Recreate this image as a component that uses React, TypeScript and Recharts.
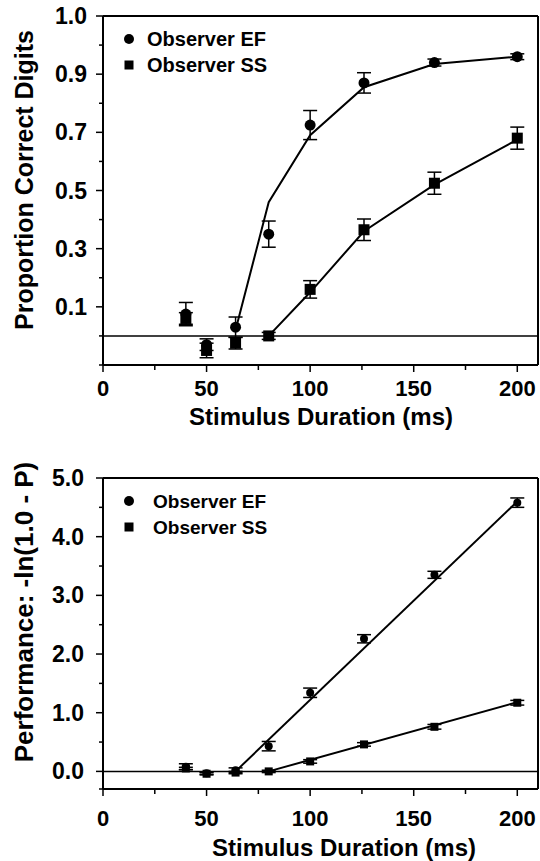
import {
  ComposedChart,
  Line,
  Scatter,
  XAxis,
  YAxis,
  ErrorBar,
  ReferenceLine,
  Legend,
} from "recharts";

const OBSERVERS = ["Observer EF", "Observer SS"];
const DURATIONS = [40, 50, 64, 80, 100, 126, 160, 200];

// upper panel: proportion correct digits
const EF_PROP = [0.075, -0.03, 0.03, 0.35, 0.725, 0.87, 0.94, 0.96];
const EF_PROP_ERR = [0.04, 0.02, 0.035, 0.045, 0.05, 0.035, 0.012, 0.01];
const SS_PROP = [0.06, -0.05, -0.025, 0.0, 0.16, 0.365, 0.525, 0.68];
const SS_PROP_ERR = [0.02, 0.025, 0.02, 0.012, 0.03, 0.037, 0.038, 0.038];
const EF_PROP_FIT_X = [64, 80, 100, 126, 160, 200];
const EF_PROP_FIT = [0.02, 0.46, 0.69, 0.855, 0.935, 0.96];
const SS_PROP_FIT_X = [80, 100, 126, 160, 200];
const SS_PROP_FIT = [0.0, 0.15, 0.36, 0.52, 0.675];

// lower panel: -ln(1 - P)
const EF_PERF = [0.08, -0.03, 0.02, 0.43, 1.34, 2.26, 3.35, 4.58];
const EF_PERF_ERR = [0.05, 0.02, 0.04, 0.08, 0.08, 0.07, 0.06, 0.08];
const SS_PERF = [0.05, -0.04, -0.02, 0.0, 0.17, 0.46, 0.76, 1.17];
const SS_PERF_ERR = [0.02, 0.02, 0.02, 0.02, 0.03, 0.03, 0.04, 0.04];
const EF_PERF_FIT_X = [64, 200];
const EF_PERF_FIT = [0.0, 4.6];
const SS_PERF_FIT_X = [80, 200];
const SS_PERF_FIT = [0.0, 1.18];

const X_MAX = 210;
const X_TICKS = [0, 50, 100, 150, 200];
const X_MINOR = [25, 75, 125, 175];

const PROP_DOMAIN = [-0.1, 1.1];
const PROP_TICKS = [0.1, 0.3, 0.5, 0.7, 0.9, 1.1];
const PROP_TICK_LABELS = ["0.1", "0.3", "0.5", "0.7", "0.9", "1.0"];
const PROP_MINOR = [-0.1, 0, 0.2, 0.4, 0.6, 0.8, 1.0];

const PERF_DOMAIN = [-0.3, 5];
const PERF_TICKS = [0, 1, 2, 3, 4, 5];
const PERF_TICK_LABELS = ["0.0", "1.0", "2.0", "3.0", "4.0", "5.0"];
const PERF_MINOR = [-0.3, 0.5, 1.5, 2.5, 3.5, 4.5];

const FONT = "'Liberation Sans', Arial, Helvetica, sans-serif";
const INK = "#000";

const points = (ys: number[], errs: number[]) =>
  DURATIONS.map((x, i) => ({ x, y: ys[i], err: errs[i] }));
const fit = (xs: number[], ys: number[]) => xs.map((x, i) => ({ x, y: ys[i] }));

const xTick = (labelDy: number) => (props: any) => {
  const { x, y, payload } = props;
  const major = X_TICKS.includes(payload.value);
  return (
    <g>
      <line x1={x} x2={x} y1={y} y2={y + (major ? 7 : 5)} stroke={INK} strokeWidth={1.5} />
      {major && (
        <text x={x} y={y + labelDy} textAnchor="middle" fontFamily={FONT} fontWeight="bold" fontSize={22} fill={INK}>
          {payload.value}
        </text>
      )}
    </g>
  );
};

const yTick = (ticks: number[], labels: string[], labelDx: number) => (props: any) => {
  const { x, y, payload } = props;
  const i = ticks.indexOf(payload.value);
  return (
    <g>
      <line x1={x} x2={x - (i >= 0 ? 7 : 4)} y1={y} y2={y} stroke={INK} strokeWidth={1.5} />
      {i >= 0 && (
        <text x={x - labelDx} y={y + 8} textAnchor="end" fontFamily={FONT} fontWeight="bold" fontSize={23} fill={INK}>
          {labels[i]}
        </text>
      )}
    </g>
  );
};

const vTitle = (text: string, cx: number, cy: number, size: number) => () => (
  <text
    x={cx}
    y={cy}
    transform={`rotate(-90 ${cx} ${cy})`}
    textAnchor="middle"
    dominantBaseline="central"
    fontFamily={FONT}
    fontWeight="bold"
    fontSize={size}
    fill={INK}
  >
    {text}
  </text>
);

const hTitle = (text: string, cx: number, baseline: number) => () => (
  <text x={cx} y={baseline} textAnchor="middle" fontFamily={FONT} fontWeight="bold" fontSize={24} fill={INK}>
    {text}
  </text>
);

function ObserverKey({ textX, fontSize }: { textX: number; fontSize: number }) {
  return (
    <svg width={180} height={56} style={{ display: "block" }}>
      <circle cx={19} cy={14} r={5} fill={INK} />
      <rect x={14.5} y={35.5} width={9} height={9} fill={INK} />
      {OBSERVERS.map((name, i) => (
        <text key={name} x={textX} y={21 + i * 26} fontFamily={FONT} fontWeight="bold" fontSize={fontSize} fill={INK}>
          {name}
        </text>
      ))}
    </svg>
  );
}

const dot = (r: number) => (p: any) => <circle cx={p.cx} cy={p.cy} r={r} fill={INK} />;
const square = (s: number) => (p: any) => (
  <rect x={p.cx - s / 2} y={p.cy - s / 2} width={s} height={s} fill={INK} />
);

type PanelProps = {
  height: number;
  top: number;
  xAxisHeight: number;
  domain: number[];
  ticks: number[];
  tickLabels: string[];
  minor: number[];
  labelDx: number;
  xLabelDy: number;
  yTitle: string;
  yTitleCy: number;
  yTitleSize: number;
  xTitleCx: number;
  xTitleBaseline: number;
  legendTop: number;
  legendTextX: number;
  legendFont: number;
  efPts: { x: number; y: number; err: number }[];
  ssPts: { x: number; y: number; err: number }[];
  efFit: { x: number; y: number }[];
  ssFit: { x: number; y: number }[];
  markR: number;
  markS: number;
};

function Panel(p: PanelProps) {
  return (
    <ComposedChart width={540} height={p.height} margin={{ top: p.top, right: 2, bottom: 0, left: 0 }}>
      <XAxis
        dataKey="x"
        type="number"
        domain={[0, X_MAX]}
        ticks={[...X_TICKS, ...X_MINOR].sort((a, b) => a - b)}
        interval={0}
        height={p.xAxisHeight}
        tickSize={0}
        tickMargin={0}
        tickLine={false}
        axisLine={{ stroke: INK, strokeWidth: 2 }}
        tick={xTick(p.xLabelDy)}
        label={{ content: hTitle("Stimulus Duration (ms)", p.xTitleCx, p.xTitleBaseline) }}
      />
      <YAxis
        type="number"
        domain={p.domain}
        allowDataOverflow
        ticks={[...p.ticks, ...p.minor].sort((a, b) => a - b)}
        interval={0}
        width={103}
        tickSize={0}
        tickMargin={0}
        tickLine={false}
        axisLine={{ stroke: INK, strokeWidth: 2 }}
        tick={yTick(p.ticks, p.tickLabels, p.labelDx)}
        label={{ content: vTitle(p.yTitle, 24, p.yTitleCy, p.yTitleSize) }}
      />
      <ReferenceLine y={0} stroke={INK} strokeWidth={1.5} />
      <ReferenceLine y={p.domain[1]} stroke={INK} strokeWidth={2} />
      <ReferenceLine x={X_MAX} stroke={INK} strokeWidth={2} />
      <Legend
        layout="vertical"
        align="center"
        verticalAlign="middle"
        wrapperStyle={{ left: 110, top: p.legendTop, width: 180 }}
        content={() => <ObserverKey textX={p.legendTextX} fontSize={p.legendFont} />}
      />
      <Line data={p.efFit} dataKey="y" name="EF fit" stroke={INK} strokeWidth={2} dot={false} legendType="none" isAnimationActive={false} />
      <Line data={p.ssFit} dataKey="y" name="SS fit" stroke={INK} strokeWidth={2} dot={false} legendType="none" isAnimationActive={false} />
      <Scatter data={p.efPts} dataKey="y" name={OBSERVERS[0]} shape={dot(p.markR)} isAnimationActive={false}>
        <ErrorBar dataKey="err" direction="y" width={7} stroke={INK} strokeWidth={1.5} />
      </Scatter>
      <Scatter data={p.ssPts} dataKey="y" name={OBSERVERS[1]} shape={square(p.markS)} isAnimationActive={false}>
        <ErrorBar dataKey="err" direction="y" width={7} stroke={INK} strokeWidth={1.5} />
      </Scatter>
    </ComposedChart>
  );
}

export default function App() {
  return (
    <div style={{ position: "absolute", left: 0, top: 0, width: 540, height: 861, background: "#fff" }}>
      <Panel
        height={430}
        top={16}
        xAxisHeight={65}
        domain={PROP_DOMAIN}
        ticks={PROP_TICKS}
        tickLabels={PROP_TICK_LABELS}
        minor={PROP_MINOR}
        labelDx={16}
        xLabelDy={31}
        yTitle="Proportion Correct Digits"
        yTitleCy={180}
        yTitleSize={25}
        xTitleCx={321}
        xTitleBaseline={425}
        legendTop={25}
        legendTextX={37}
        legendFont={20}
        efPts={points(EF_PROP, EF_PROP_ERR)}
        ssPts={points(SS_PROP, SS_PROP_ERR)}
        efFit={fit(EF_PROP_FIT_X, EF_PROP_FIT)}
        ssFit={fit(SS_PROP_FIT_X, SS_PROP_FIT)}
        markR={5.5}
        markS={11}
      />
      <Panel
        height={431}
        top={48}
        xAxisHeight={72}
        domain={PERF_DOMAIN}
        ticks={PERF_TICKS}
        tickLabels={PERF_TICK_LABELS}
        minor={PERF_MINOR}
        labelDx={19}
        xLabelDy={37}
        yTitle="Performance: -ln(1.0 - P)"
        yTitleCy={182}
        yTitleSize={26}
        xTitleCx={344}
        xTitleBaseline={426}
        legendTop={57}
        legendTextX={43}
        legendFont={19}
        efPts={points(EF_PERF, EF_PERF_ERR)}
        ssPts={points(SS_PERF, SS_PERF_ERR)}
        efFit={fit(EF_PERF_FIT_X, EF_PERF_FIT)}
        ssFit={fit(SS_PERF_FIT_X, SS_PERF_FIT)}
        markR={4}
        markS={8}
      />
    </div>
  );
}
